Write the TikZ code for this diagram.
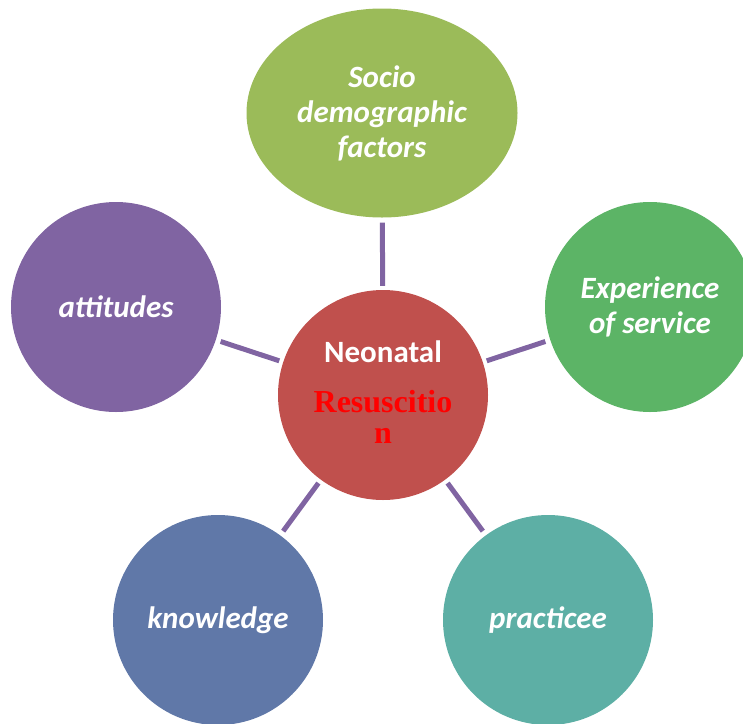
\documentclass[tikz,border=0pt]{standalone}
\usepackage{fontspec}
\setmainfont{Carlito}
\newfontfamily\resfont{Liberation Serif}
\usetikzlibrary{shapes.geometric,backgrounds}

\definecolor{socioC}{RGB}{155,187,89}
\definecolor{expC}{RGB}{92,180,102}
\definecolor{attC}{RGB}{128,100,162}
\definecolor{knowC}{RGB}{96,120,168}
\definecolor{pracC}{RGB}{93,175,165}
\definecolor{coreC}{RGB}{192,80,77}
\definecolor{linkC}{RGB}{128,100,162}

\begin{document}
\begin{tikzpicture}[x=1pt,y=-1pt,
  bubble/.style={ellipse, fill=#1, draw=none, inner sep=0pt,
    minimum width=210pt, minimum height=210pt,
    text=white, align=center,
    font=\fontsize{31}{35}\selectfont\bfseries\itshape},
  link/.style={draw=linkC, line width=5pt, shorten <=5pt, shorten >=4pt}]
  \useasboundingbox (0,0) rectangle (743,723);

  % outer topics
  \node[bubble=socioC, minimum width=271pt, minimum height=209pt] (socio) at (382,113)
    {Socio\\demographic\\factors};
  \node[bubble=expC] (exper) at (650,307) {Experience\\of service};
  \node[bubble=attC] (atti) at (116,307) {attitudes};
  \node[bubble=knowC] (know) at (218,620) {knowledge};
  \node[bubble=pracC] (prac) at (548,620) {practicee};

  % central topic
  \node[bubble=coreC] (core) at (383,395) {};
  \node[text=white, font=\fontsize{31}{35}\selectfont\bfseries, anchor=base] (coreA) at (383,362) {Neonatal};
  \node[text=red, font=\fontsize{32}{31}\selectfont\resfont\bfseries, align=center, anchor=base] (coreB) at (383,443)
    {Resuscitio\\n};

  % connectors
  \begin{scope}[on background layer]
    \draw[link] (socio) -- (core);
    \draw[link] (exper) -- (core);
    \draw[link] (atti) -- (core);
    \draw[link] (know) -- (core);
    \draw[link] (prac) -- (core);
  \end{scope}
\end{tikzpicture}
\end{document}
